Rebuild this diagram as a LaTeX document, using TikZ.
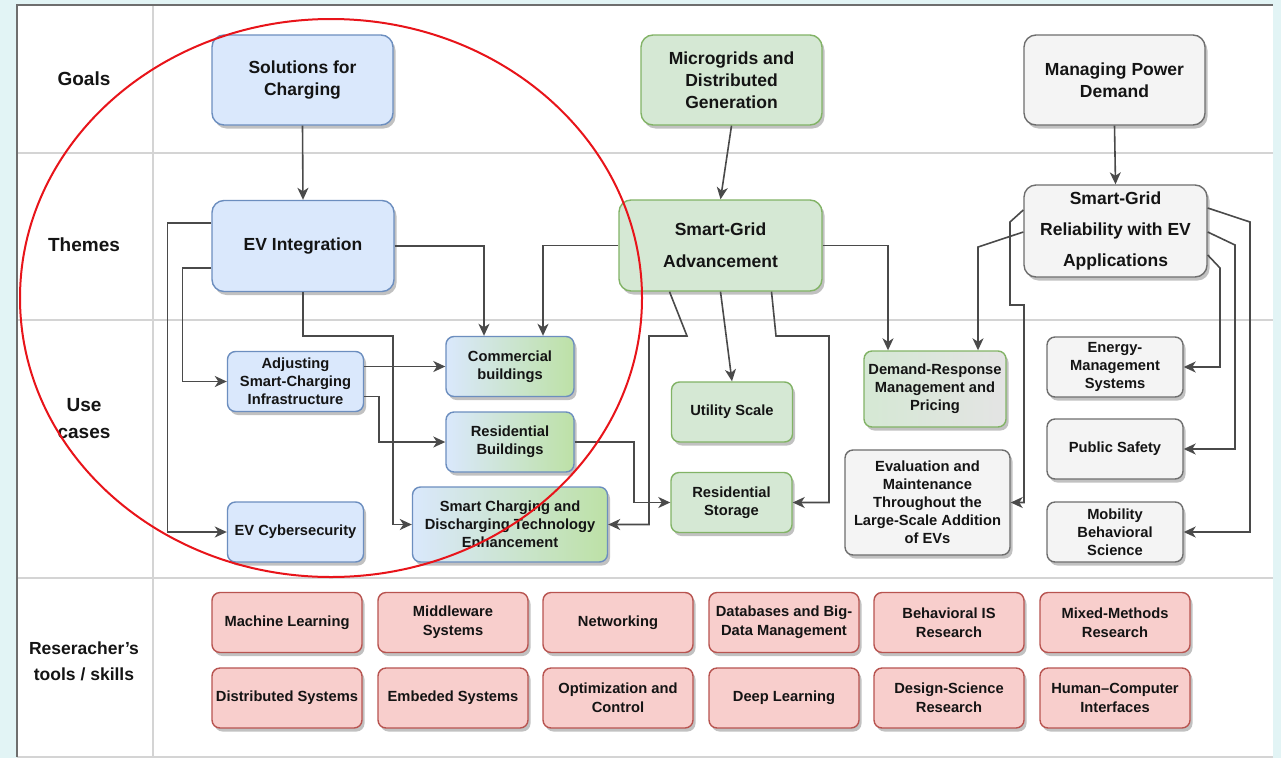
\documentclass[tikz,border=0pt]{standalone}
\usepackage{fontspec}
\setmainfont{Liberation Sans}
\usepackage{tikz}
\usepackage{xcolor}
\usetikzlibrary{arrows.meta,shadows}
\definecolor{blue-fill}{HTML}{DAE8FC}
\definecolor{blue-line}{HTML}{6C8EBF}
\definecolor{green-fill}{HTML}{D5E8D4}
\definecolor{green-end}{HTML}{BDE1A6}
\definecolor{green-line}{HTML}{82B366}
\definecolor{gray-fill}{HTML}{F4F4F4}
\definecolor{gray-end}{HTML}{E4E4E4}
\definecolor{gray-line}{HTML}{6E6E6E}
\definecolor{red-fill}{HTML}{F8CECC}
\definecolor{red-line}{HTML}{B85450}
\definecolor{link-gray}{HTML}{4A4A4A}
\definecolor{text-dark}{HTML}{141414}
\definecolor{frame-gray}{HTML}{D4D4D4}
\definecolor{page-cyan}{HTML}{E2F4F5}
\tikzset{
    base-box/.style = {draw, rectangle, rounded corners=8pt, line width=1.4pt, align=center, inner sep=1pt, text=text-dark,
        font=\fontsize{14.7}{18}\selectfont\bfseries,
        drop shadow={shadow xshift=2.5pt, shadow yshift=-3.5pt, opacity=0.4, fill=black!60}},
    big-box/.style = {base-box, rounded corners=12pt, minimum width=181pt, minimum height=90pt, font=\fontsize{17.5}{22}\selectfont\bfseries},
    small-box/.style = {base-box, minimum width=136pt, minimum height=60pt},
    skill-box/.style = {base-box, red-box, minimum width=150pt, minimum height=60pt, font=\fontsize{14.7}{19}\selectfont\bfseries},
    blue-box/.style = {fill=blue-fill, draw=blue-line},
    green-box/.style = {fill=green-fill, draw=green-line},
    gray-box/.style = {fill=gray-fill, draw=gray-line},
    red-box/.style = {fill=red-fill, draw=red-line},
    mixed-box/.style = {left color=blue-fill, right color=green-end, draw=blue-line},
    fade-box/.style = {left color=green-fill, right color=gray-end, draw=green-line},
    row-label/.style = {text=text-dark, align=center, font=\fontsize{19}{27}\selectfont\bfseries},
    link/.style = {draw=link-gray, line width=1.6pt, -{Stealth[length=12pt, width=11pt, inset=3.5pt]}},
    lane/.style = {draw=frame-gray, line width=1.2pt},
    red-ring/.style = {draw={rgb,255:red,232;green,20;blue,26}, line width=2pt},
}

\begin{document}
\begin{tikzpicture}[x=1pt, y=-1pt]
\useasboundingbox (0,0) rectangle (1281,758);
\fill[page-cyan] (0,0) rectangle (1281,758);
\fill[white] (17,5) rectangle (1273,757);
\draw[lane] (153,5) -- (153,757);
\draw[lane] (17,153) -- (1273,153);
\draw[lane] (17,320) -- (1273,320);
\draw[lane] (17,578) -- (1273,578);
\draw[lane] (17,757) -- (1273,757);
\draw[draw=gray-line, line width=1.4pt] (17,757) -- (17,5) -- (1273,5);

\node[row-label] (goals) at (84,79) {Goals};
\node[row-label] (themes) at (84,245) {Themes};
\node[row-label] (cases) at (84,419) {Use\\cases};
\node[row-label, font=\fontsize{17.5}{26}\selectfont\bfseries] (skills) at (84,661) {Reseracher’s\\tools / skills};

\node[big-box, blue-box] (sol) at (302.5,80) {Solutions for\\Charging};
\node[big-box, green-box] (micro) at (731.5,80) {Microgrids and\\Distributed\\Generation};
\node[big-box, gray-box] (manage) at (1114.5,80) {Managing Power\\Demand};

\node[big-box, blue-box, minimum width=182pt, minimum height=91pt] (evint) at (303,246) {EV Integration};
\node[big-box, green-box, minimum width=203pt, minimum height=91pt, font=\fontsize{17.5}{32}\selectfont\bfseries] (sga) at (720.5,245.5) {Smart-Grid\\Advancement};
\node[big-box, gray-box, minimum width=183pt, minimum height=92pt, font=\fontsize{17.5}{31}\selectfont\bfseries] (sgr) at (1115.5,231) {Smart-Grid\\Reliability with EV\\Applications};

\node[small-box, blue-box] (adjust) at (295.5,381.5) {Adjusting\\Smart-Charging\\Infrastructure};
\node[small-box, mixed-box, minimum width=128pt] (commercial) at (510,366.5) {Commercial\\buildings};
\node[small-box, mixed-box, minimum width=128pt] (resbuild) at (510,442) {Residential\\Buildings};
\node[small-box, mixed-box, minimum width=195pt, minimum height=75pt] (smartchg) at (510,524.5) {Smart Charging and\\Discharging Technology\\Enhancement};
\node[small-box, blue-box] (evcyber) at (295.5,532) {EV Cybersecurity};
\node[small-box, green-box, minimum width=121pt] (utility) at (732,412) {Utility Scale};
\node[small-box, green-box, minimum width=121pt] (resstore) at (731.5,502.5) {Residential\\Storage};
\node[small-box, fade-box, minimum width=142pt, minimum height=76pt] (demand) at (935,389) {Demand-Response\\Management and\\Pricing};
\node[small-box, gray-box, minimum width=165pt, minimum height=105pt] (evaluation) at (927.5,502.5) {Evaluation and\\Maintenance\\Throughout the\\Large-Scale Addition\\of EVs};
\node[small-box, gray-box] (energy) at (1115,367) {Energy-\\Management\\Systems};
\node[small-box, gray-box] (safety) at (1115,449) {Public Safety};
\node[small-box, gray-box] (mobility) at (1115,532) {Mobility\\Behavioral\\Science};

\node[skill-box] (ml) at (287,622.5) {Machine Learning};
\node[skill-box] (middleware) at (453,622.5) {Middleware\\Systems};
\node[skill-box] (networking) at (618,622.5) {Networking};
\node[skill-box] (databases) at (784,622.5) {Databases and Big-\\Data Management};
\node[skill-box] (behavioral) at (949,622.5) {Behavioral IS\\Research};
\node[skill-box] (mixed) at (1115,622.5) {Mixed-Methods\\Research};
\node[skill-box] (distributed) at (287,698) {Distributed Systems};
\node[skill-box] (embedded) at (453,698) {Embeded Systems};
\node[skill-box] (optimization) at (618,698) {Optimization and\\Control};
\node[skill-box] (deep) at (784,698) {Deep Learning};
\node[skill-box] (design) at (949,698) {Design-Science\\Research};
\node[skill-box] (hci) at (1115,698) {Human–Computer\\Interfaces};

\draw[link] (sol.south) -- (evint.north);
\draw[link] (micro.south) -- (sga.north);
\draw[link] (manage.south) -- (sgr.north);

\draw[link] (evint.east) -| ([xshift=-26pt]commercial.north);
\draw[link] (sga.west) -| ([xshift=33pt]commercial.north);
\draw[link] ([yshift=23pt]evint.west) -- ++(-44,0) |- (evcyber.west);
\draw[link] ([yshift=-22pt]evint.west) -- ++(-29,0) |- (adjust.west);
\draw[link] (evint.south) |- (393,336) |- (smartchg.west);
\draw[link] (adjust.east |- commercial.west) -- (commercial.west);
\draw[link] ([yshift=-15pt]adjust.east) -- ++(15,0) |- (resbuild.west);
\draw[link] (resbuild.east) -- ++(59,0) |- (resstore.west);

\draw[link] ([xshift=-51pt]sga.south) -- (687,336) -- (649,336) |- (smartchg.east);
\draw[link] (sga.south) -- (utility.north);
\draw[link] ([xshift=51pt]sga.south) -- (776,336) -- (829,336) |- (resstore.east);
\draw[link] (sga.east) -| ([xshift=-47pt]demand.north);

\draw[link] ([yshift=21pt]sgr.west) -- (1010,222) -- (1010,305) -- (1024,305) |- (evaluation.east);
\draw[link] ([yshift=-1pt]sgr.west) -- (978,247) -- ([xshift=43pt]demand.north);
\draw[link] ([yshift=23pt]sgr.east) -- (1250,222) |- (mobility.east);
\draw[link] ([yshift=-1pt]sgr.east) -- (1235,245) |- (safety.east);
\draw[link] ([yshift=-24pt]sgr.east) -- (1220,268) |- (energy.east);

\draw[red-ring] (331,298) ellipse [x radius=311pt, y radius=279pt];
\end{tikzpicture}
\end{document}
